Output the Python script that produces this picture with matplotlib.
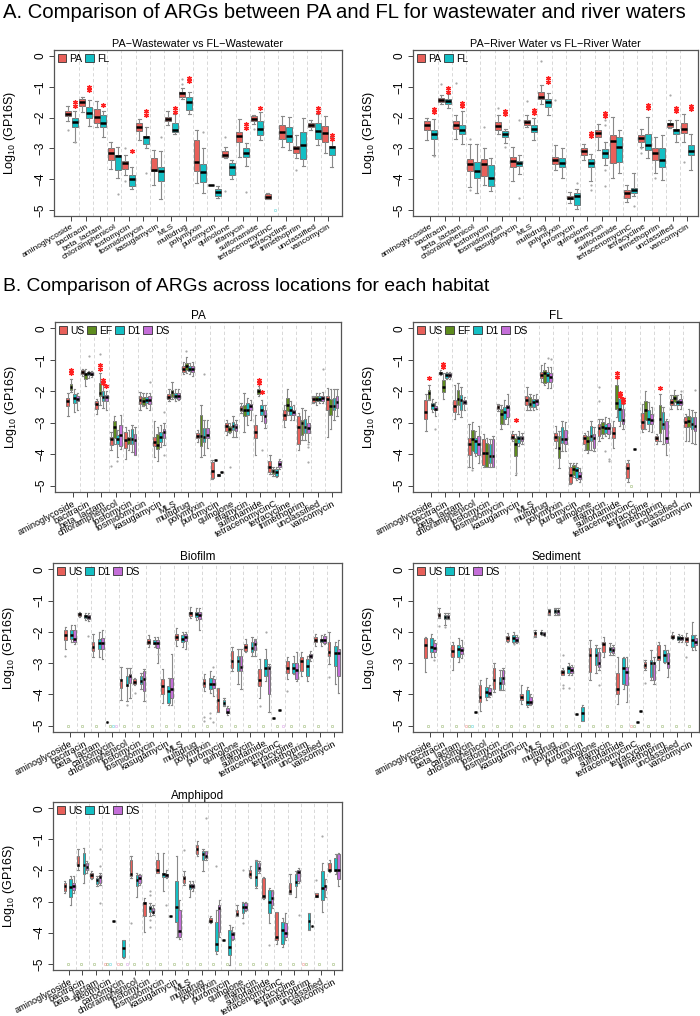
import numpy as np
import matplotlib
matplotlib.use("Agg")
import matplotlib.pyplot as plt
from matplotlib.patches import Patch
from matplotlib.colors import to_rgba

plt.rcParams['font.family'] = ['Liberation Sans', 'DejaVu Sans']
plt.rcParams['mathtext.fontset'] = 'custom'
plt.rcParams['mathtext.rm'] = 'Liberation Sans'
plt.rcParams['mathtext.default'] = 'regular'

RED = "#E8605A"
GREEN = "#5E8C1E"
TEAL = "#14BFC4"
VIOLET = "#C46ED8"

# ---------------- categories ----------------
cats_A = ["aminoglycoside", "bacitracin", "beta_lactam", "chloramphenicol", "fosfomycin",
          "fosmidomycin", "kasugamycin", "MLS", "multidrug", "polymyxin", "puromycin",
          "quinolone", "rifamycin", "sulfonamide", "tetracenomycinC", "tetracycline",
          "trimethoprim", "unclassified", "vancomycin"]
cats_bio = cats_A[:3] + ["carbomycin"] + cats_A[3:]
cats_amph = cats_A[:3] + ["bleomycin", "carbomycin"] + cats_A[3:]

# box rows: [lower whisker, q1, median, q3, upper whisker]
ww_pa = [[-2.11, -1.96, -1.87, -1.77, -1.61], [-1.82, -1.61, -1.48, -1.41, -1.34],
         [-2.30, -2.19, -1.98, -1.73, -1.45], [-3.67, -3.39, -3.14, -3.00, -2.78],
         [-3.85, -3.67, -3.48, -3.40, -3.21], [-2.73, -2.44, -2.32, -2.19, -2.03],
         [-4.18, -3.75, -3.69, -3.32, -3.05], [-2.25, -2.12, -2.03, -1.98, -1.77],
         [-1.39, -1.32, -1.21, -1.16, -1.04], [-4.12, -3.75, -3.45, -2.73, -2.41],
         [-4.18, -4.18, -4.18, -4.18, -4.18], [-3.32, -3.27, -3.21, -3.10, -2.94],
         [-3.29, -2.78, -2.60, -2.46, -2.03], [-2.20, -2.12, -2.03, -1.96, -1.90],
         [-4.66, -4.64, -4.57, -4.50, -4.46], [-2.94, -2.68, -2.46, -2.23, -1.95],
         [-3.32, -3.14, -3.00, -2.92, -2.57], [-2.39, -2.30, -2.23, -2.17, -2.09],
         [-3.16, -2.78, -2.49, -2.28, -1.96]]
ww_fl = [[-2.78, -2.30, -2.14, -2.00, -1.80], [-2.27, -2.00, -1.85, -1.64, -1.42],
         [-2.62, -2.30, -2.17, -1.93, -1.77], [-3.96, -3.69, -3.24, -3.21, -2.94],
         [-4.31, -4.23, -4.01, -3.85, -3.59], [-3.00, -2.86, -2.64, -2.60, -2.30],
         [-4.66, -4.07, -3.72, -3.62, -3.10], [-2.52, -2.46, -2.41, -2.19, -1.87],
         [-1.87, -1.75, -1.50, -1.34, -1.18], [-4.44, -4.10, -3.78, -3.50, -3.00],
         [-4.60, -4.55, -4.42, -4.31, -4.23], [-4.01, -3.85, -3.61, -3.46, -3.37],
         [-3.57, -3.27, -3.14, -3.00, -2.84], [-2.73, -2.57, -2.37, -2.11, -1.82],
         None, [-3.05, -2.78, -2.60, -2.30, -1.98],
         [-3.57, -3.33, -2.89, -2.46, -2.00], [-2.89, -2.68, -2.43, -2.17, -1.87],
         [-3.61, -3.21, -2.97, -2.92, -2.62]]
rw_pa = [[-2.73, -2.39, -2.25, -2.11, -2.00], [-1.55, -1.50, -1.42, -1.37, -1.28],
         [-2.68, -2.36, -2.25, -2.11, -1.93], [-4.25, -3.72, -3.50, -3.34, -2.86],
         [-4.18, -3.91, -3.50, -3.34, -3.00], [-2.52, -2.39, -2.28, -2.14, -1.93],
         [-4.07, -3.59, -3.40, -3.29, -2.94], [-2.30, -2.23, -2.14, -2.09, -1.93],
         [-1.55, -1.39, -1.32, -1.18, -0.93], [-3.69, -3.51, -3.37, -3.27, -2.89],
         [-4.79, -4.66, -4.60, -4.55, -4.42], [-3.37, -3.21, -3.07, -3.00, -2.87],
         [-3.05, -2.64, -2.49, -2.41, -2.22], [-3.96, -3.48, -2.75, -2.57, -1.98],
         [-4.74, -4.60, -4.44, -4.34, -4.18], [-2.94, -2.78, -2.67, -2.57, -2.36],
         [-3.80, -3.37, -3.16, -3.00, -2.62], [-2.33, -2.30, -2.22, -2.17, -2.07],
         [-2.78, -2.49, -2.36, -2.19, -1.87]]
rw_fl = [[-3.21, -2.68, -2.54, -2.39, -2.03], [-1.68, -1.57, -1.45, -1.41, -1.23],
         [-2.86, -2.54, -2.39, -2.25, -1.80], [-4.44, -3.96, -3.73, -3.43, -2.86],
         [-4.39, -4.23, -3.96, -3.53, -3.32], [-2.84, -2.62, -2.52, -2.44, -2.36],
         [-3.82, -3.57, -3.46, -3.40, -3.21], [-2.73, -2.46, -2.36, -2.25, -2.00],
         [-1.90, -1.64, -1.50, -1.41, -1.21], [-3.96, -3.59, -3.46, -3.32, -3.00],
         [-4.98, -4.85, -4.55, -4.44, -4.31], [-4.07, -3.59, -3.46, -3.35, -3.19],
         [-3.53, -3.32, -3.16, -3.02, -2.78], [-3.80, -3.43, -2.94, -2.62, -2.39],
         [-4.55, -4.44, -4.36, -4.28, -3.80], [-3.32, -3.05, -2.89, -2.52, -1.98],
         [-4.04, -3.59, -3.37, -3.00, -2.57], [-2.78, -2.54, -2.41, -2.36, -2.09],
         [-3.69, -3.21, -3.07, -2.89, -2.52]]

pa_us = [[-2.78, -2.46, -2.32, -2.21, -2.05], [-1.51, -1.46, -1.39, -1.33, -1.28],
         [-2.72, -2.57, -2.39, -2.30, -2.24], [-3.87, -3.71, -3.53, -3.44, -3.28],
         [-4.14, -3.79, -3.55, -3.28, -3.12], [-2.59, -2.41, -2.27, -2.16, -2.03],
         [-4.09, -3.75, -3.61, -3.44, -2.96], [-2.32, -2.24, -2.18, -2.10, -1.94],
         [-1.46, -1.39, -1.30, -1.19, -1.06], [-3.61, -3.50, -3.42, -3.32, -3.23],
         [-4.79, -4.75, -4.52, -4.25, -4.18], [-3.39, -3.25, -3.10, -3.02, -2.91],
         [-2.70, -2.64, -2.56, -2.48, -2.37], [-4.03, -3.47, -3.28, -3.07, -2.75],
         [-4.63, -4.57, -4.41, -4.20, -4.03], [-3.12, -2.91, -2.75, -2.61, -2.43],
         [-3.87, -3.66, -3.12, -2.80, -2.69], [-2.37, -2.35, -2.24, -2.18, -2.14],
         [-3.44, -2.59, -2.24, -2.16, -1.89]]
pa_ef = [[-2.03, -1.97, -1.87, -1.78, -1.60], [-1.84, -1.60, -1.46, -1.41, -1.30],
         [-2.43, -2.16, -2.07, -1.73, -1.41], [-3.68, -3.47, -3.14, -2.96, -2.80],
         [-3.87, -3.66, -3.53, -3.44, -3.23], [-2.48, -2.43, -2.32, -2.18, -2.05],
         [-4.20, -3.82, -3.71, -3.37, -3.12], [-2.24, -2.18, -2.02, -1.97, -1.71],
         [-1.41, -1.32, -1.19, -1.11, -0.92], [-4.09, -3.75, -3.42, -2.75, -2.43],
         [-4.18, -4.18, -4.18, -4.18, -4.18], [-3.34, -3.28, -3.21, -3.10, -3.02],
         [-3.28, -2.80, -2.61, -2.43, -2.05], [-2.16, -2.10, -2.00, -1.92, -1.84],
         [-4.68, -4.63, -4.54, -4.46, -4.41], [-2.75, -2.64, -2.43, -2.21, -1.94],
         [-3.55, -3.39, -3.02, -2.91, -2.53], [-2.43, -2.32, -2.24, -2.16, -2.05],
         [-3.21, -2.75, -2.48, -2.24, -1.94]]
pa_d1 = [[-2.67, -2.37, -2.21, -2.08, -1.94], [-1.57, -1.49, -1.43, -1.39, -1.35],
         [-2.53, -2.32, -2.18, -2.00, -1.73], [-4.09, -3.66, -3.52, -3.39, -3.23],
         [-3.93, -3.66, -3.53, -3.21, -3.07], [-2.53, -2.37, -2.29, -2.18, -2.05],
         [-3.77, -3.61, -3.44, -3.28, -3.07], [-2.32, -2.21, -2.14, -2.05, -1.92],
         [-1.46, -1.35, -1.28, -1.19, -1.09], [-4.03, -3.61, -3.44, -3.18, -2.91],
         [-4.68, -4.68, -4.65, -4.62, -4.62], [-3.45, -3.23, -3.10, -2.99, -2.80],
         [-3.07, -2.75, -2.59, -2.37, -2.21], [-2.96, -2.75, -2.59, -2.43, -2.27],
         [-4.73, -4.68, -4.57, -4.46, -4.41], [-2.91, -2.75, -2.61, -2.48, -2.32],
         [-3.55, -3.34, -3.14, -2.89, -2.59], [-2.37, -2.32, -2.24, -2.14, -2.05],
         [-2.91, -2.59, -2.48, -2.21, -1.94]]
pa_ds = [[-2.59, -2.32, -2.24, -2.14, -2.05], [-1.54, -1.49, -1.44, -1.39, -1.35],
         [-2.59, -2.30, -2.18, -2.11, -2.00], [-3.82, -3.75, -3.39, -3.07, -2.75],
         [-4.03, -4.03, -3.55, -3.36, -3.12], [-2.59, -2.39, -2.27, -2.16, -2.05],
         [-3.71, -3.50, -3.28, -3.21, -3.02], [-2.29, -2.23, -2.14, -2.05, -1.92],
         [-1.51, -1.39, -1.30, -1.19, -1.06], [-3.79, -3.50, -3.39, -3.18, -2.91],
         [-4.55, -4.55, -4.55, -4.55, -4.55], [-3.45, -3.25, -3.12, -3.04, -2.91],
         [-2.91, -2.59, -2.48, -2.39, -2.27], [-3.18, -3.02, -2.78, -2.59, -2.43],
         [-4.46, -4.41, -4.30, -4.22, -4.14], [-2.91, -2.75, -2.67, -2.59, -2.43],
         [-3.61, -3.34, -3.18, -3.02, -2.80], [-2.37, -2.32, -2.21, -2.16, -2.03],
         [-2.80, -2.53, -2.35, -2.16, -1.94]]

fl_us = [[-3.26, -2.88, -2.67, -2.29, -2.08], [-1.48, -1.45, -1.41, -1.38, -1.34],
         [-2.88, -2.67, -2.48, -2.27, -1.81], [-4.39, -4.01, -3.69, -3.47, -3.04],
         [-4.39, -4.33, -3.96, -3.53, -3.37], [-2.63, -2.56, -2.50, -2.45, -2.40],
         [-3.58, -3.53, -3.45, -3.37, -3.26], [-2.61, -2.45, -2.29, -2.16, -1.86],
         [-1.70, -1.59, -1.48, -1.38, -1.16], [-3.80, -3.58, -3.45, -3.31, -3.10],
         [-4.96, -4.92, -4.66, -4.42, -4.28], [-3.85, -3.69, -3.47, -3.39, -3.31],
         [-3.58, -3.42, -3.17, -3.04, -2.88], [-3.80, -3.47, -3.31, -3.15, -2.94],
         [-4.87, -4.76, -4.44, -4.28, -4.17], [-3.30, -3.20, -2.98, -2.70, -2.40],
         [-3.69, -3.58, -3.50, -3.42, -3.37], [-2.56, -2.45, -2.34, -2.24, -2.13],
         [-3.58, -3.13, -2.99, -2.83, -2.72]]
fl_ef = [[-2.29, -2.24, -2.05, -1.97, -1.81], [-2.24, -2.02, -1.86, -1.65, -1.43],
         [-2.72, -2.45, -2.24, -1.95, -1.75], [-4.44, -3.90, -3.53, -3.24, -2.99],
         [-4.42, -4.39, -3.96, -3.63, -3.47], [-3.20, -3.04, -2.72, -2.56, -2.45],
         [-4.66, -4.06, -3.67, -3.47, -3.37], [-2.61, -2.50, -2.40, -2.18, -2.08],
         [-1.81, -1.75, -1.43, -1.32, -1.11], [-4.44, -4.12, -3.80, -3.42, -3.26],
         [-4.71, -4.66, -4.46, -4.33, -4.28], [-3.96, -3.85, -3.58, -3.42, -3.26],
         [-3.47, -3.37, -3.13, -2.99, -2.88], [-2.83, -2.56, -2.37, -1.81, -1.56],
         None, [-3.20, -2.90, -2.60, -2.30, -2.00],
         [-3.58, -3.31, -2.88, -2.45, -2.08], [-2.45, -2.34, -2.20, -2.13, -1.97],
         [-3.58, -3.15, -2.94, -2.77, -2.56]]
fl_d1 = [[-2.67, -2.56, -2.45, -2.38, -2.24], [-1.62, -1.59, -1.48, -1.43, -1.38],
         [-2.83, -2.61, -2.29, -2.13, -1.86], [-4.06, -3.96, -3.58, -3.47, -3.26],
         [-4.39, -4.28, -4.06, -3.69, -3.53], [-3.04, -2.88, -2.67, -2.50, -2.29],
         [-3.74, -3.63, -3.47, -3.42, -3.26], [-2.61, -2.50, -2.34, -2.24, -2.13],
         [-1.91, -1.70, -1.48, -1.38, -1.22], [-3.90, -3.63, -3.53, -3.15, -2.94],
         [-4.82, -4.76, -4.49, -4.39, -4.28], [-3.85, -3.58, -3.42, -3.10, -2.94],
         [-3.42, -3.31, -3.17, -3.04, -2.83], [-3.10, -2.94, -2.56, -2.24, -2.08],
         [-3.83, -3.83, -3.83, -3.83, -3.83], [-3.25, -3.05, -2.88, -2.60, -2.35],
         [-3.69, -3.20, -3.04, -2.67, -2.50], [-2.56, -2.45, -2.34, -2.27, -2.13],
         [-3.63, -3.20, -3.04, -2.83, -2.61]]
fl_ds = [[-2.77, -2.61, -2.56, -2.48, -2.34], [-1.62, -1.56, -1.48, -1.43, -1.38],
         [-2.61, -2.42, -2.34, -2.27, -2.18], [-4.28, -4.01, -3.67, -3.42, -3.10],
         [-4.42, -4.39, -4.06, -3.53, -3.42], [-3.04, -2.83, -2.50, -2.45, -2.08],
         [-3.69, -3.58, -3.50, -3.42, -3.31], [-2.56, -2.45, -2.31, -2.24, -2.08],
         [-1.91, -1.70, -1.54, -1.43, -1.22], [-3.90, -3.69, -3.53, -3.24, -2.99],
         [-4.87, -4.78, -4.68, -4.55, -4.44], [-3.90, -3.80, -3.47, -3.37, -3.15],
         [-3.47, -3.35, -3.17, -3.02, -2.85], [-3.20, -3.04, -2.91, -2.56, -2.40],
         None, [-3.30, -3.05, -2.90, -2.72, -2.50],
         [-4.01, -3.63, -3.47, -2.93, -2.88], [-2.56, -2.45, -2.34, -2.24, -2.08],
         [-3.69, -3.26, -3.10, -2.83, -2.67]]

bio_us = [[-2.54, -2.27, -2.11, -1.95, -1.84], [-1.52, -1.49, -1.44, -1.41, -1.38],
          [-2.81, -2.60, -2.47, -2.33, -2.06], [-4.87] * 5,
          [-4.17, -3.79, -3.55, -3.52, -3.12], [-3.70, -3.66, -3.59, -3.52, -3.46],
          [-2.49, -2.38, -2.31, -2.22, -2.11], [-4.27, -3.98, -3.73, -3.52, -3.19],
          [-2.44, -2.27, -2.16, -2.06, -1.89], [-1.57, -1.49, -1.41, -1.35, -1.21],
          [-3.90, -3.77, -3.63, -3.52, -3.36], [-4.55, -4.55, -4.17, -3.79, -3.79],
          [-3.25, -3.14, -2.92, -2.60, -2.49], [-2.65, -2.60, -2.49, -2.38, -2.22],
          [-4.11, -3.73, -3.55, -3.19, -2.87], [-4.74] * 5,
          [-3.52, -3.30, -3.14, -2.92, -2.81], [-3.41, -3.25, -2.92, -2.81, -2.65],
          [-2.44, -2.33, -2.25, -2.16, -2.08], [-3.03, -2.76, -2.65, -2.33, -2.00]]
bio_d1 = [[-2.33, -2.22, -2.11, -1.95, -1.79], [-1.62, -1.57, -1.49, -1.46, -1.41],
          [-2.81, -2.54, -2.36, -2.22, -2.00], None,
          [-4.22, -3.73, -3.70, -3.41, -3.16], [-3.84, -3.68, -3.57, -3.41, -3.30],
          [-2.49, -2.40, -2.36, -2.27, -2.17], [-4.33, -4.27, -3.90, -3.73, -3.46],
          [-2.49, -2.33, -2.22, -2.11, -2.00], [-1.62, -1.54, -1.43, -1.35, -1.24],
          [-3.95, -3.84, -3.66, -3.46, -3.25], [-4.38, -4.33, -4.27, -4.17, -4.11],
          [-3.68, -3.25, -2.92, -2.76, -2.54], [-2.76, -2.65, -2.51, -2.33, -2.16],
          [-3.57, -3.41, -3.14, -2.87, -2.54], [-4.51] * 5,
          [-3.36, -3.30, -3.14, -2.98, -2.76], [-3.57, -3.41, -3.08, -2.87, -2.76],
          [-2.44, -2.33, -2.25, -2.22, -2.11], [-3.68, -3.08, -2.68, -2.44, -2.33]]
bio_ds = [[-2.38, -2.33, -2.22, -1.95, -1.79], [-1.65, -1.60, -1.52, -1.46, -1.41],
          [-2.87, -2.54, -2.36, -2.19, -1.95], None,
          [-4.11, -3.63, -3.41, -3.35, -3.14], [-4.20, -3.90, -3.52, -3.25, -3.19],
          [-2.98, -2.51, -2.36, -2.25, -2.16], [-4.33, -4.11, -3.84, -3.46, -2.71],
          [-2.54, -2.30, -2.16, -2.06, -2.00], [-1.95, -1.60, -1.46, -1.38, -1.24],
          [-4.06, -3.79, -3.68, -3.52, -3.41], [-4.65, -4.60, -4.55, -4.42, -4.38],
          [-3.84, -3.25, -3.12, -2.76, -2.54], [-2.76, -2.58, -2.38, -2.27, -2.22],
          [-4.55, -4.00, -3.14, -3.08, -3.03], None,
          [-3.57, -3.52, -3.23, -2.98, -2.65], [-2.92, -2.84, -2.76, -2.71, -2.60],
          [-2.40, -2.36, -2.25, -2.14, -2.06], [-3.95, -3.41, -2.68, -2.54, -2.27]]

sed_us = [[-3.28, -2.85, -2.42, -2.20, -2.15], [-1.56, -1.53, -1.45, -1.40, -1.24],
          [-3.23, -2.80, -2.60, -2.42, -2.31], None,
          [-4.52, -4.25, -4.09, -3.71, -3.55], [-3.92, -3.82, -3.55, -3.17, -3.01],
          [-2.31, -2.28, -2.20, -2.13, -2.04], [-4.30, -4.19, -4.09, -3.98, -3.71],
          [-2.15, -2.13, -2.04, -1.99, -1.94], [-1.45, -1.42, -1.34, -1.29, -1.27],
          [-3.39, -3.37, -3.28, -3.23, -3.17], [-4.62] * 5,
          [-3.55, -3.28, -2.74, -2.53, -2.26], [-2.80, -2.63, -2.40, -2.31, -2.15],
          [-4.30, -3.98, -3.82, -3.33, -2.80], None,
          [-3.23, -3.17, -3.06, -2.96, -2.90], [-3.23, -2.90, -2.80, -2.42, -2.31],
          [-2.24, -2.20, -2.15, -2.10, -2.02], [-2.42, -2.31, -2.24, -2.15, -2.04]]
sed_d1 = [[-2.80, -2.63, -2.49, -2.20, -2.06], [-1.77, -1.59, -1.51, -1.45, -1.40],
          [-2.96, -2.80, -2.56, -2.42, -2.20], None,
          [-4.19, -4.09, -3.92, -3.76, -3.49], [-3.87, -3.82, -3.63, -3.44, -3.23],
          [-2.37, -2.31, -2.20, -2.10, -1.99], [-4.41, -4.35, -4.25, -3.87, -3.76],
          [-2.10, -2.06, -2.04, -1.99, -1.94], [-1.45, -1.40, -1.34, -1.27, -1.24],
          [-3.39, -3.31, -3.17, -3.10, -3.01], [-4.84, -4.84, -4.60, -4.41, -4.35],
          [-3.33, -3.06, -2.74, -2.53, -2.42], [-2.74, -2.63, -2.56, -2.47, -2.37],
          [-3.82, -3.66, -3.17, -2.85, -2.80], [-4.87] * 5,
          [-3.55, -3.44, -2.99, -2.90, -2.58], [-3.01, -2.96, -2.74, -2.58, -2.42],
          [-2.31, -2.26, -2.20, -2.13, -2.06], [-2.58, -2.47, -2.26, -2.10, -1.67]]
sed_ds = [[-2.80, -2.63, -2.53, -2.37, -2.26], [-1.60, -1.56, -1.51, -1.45, -1.40],
          [-2.85, -2.71, -2.58, -2.49, -2.26], [-4.57] * 5,
          [-4.09, -4.03, -3.95, -3.81, -3.71], [-3.87, -3.66, -3.49, -3.23, -3.17],
          [-2.37, -2.31, -2.26, -2.17, -2.10], [-4.35, -4.30, -4.25, -4.09, -3.98],
          [-2.13, -2.10, -2.06, -2.02, -1.99], [-1.45, -1.42, -1.34, -1.29, -1.24],
          [-3.39, -3.33, -3.23, -3.12, -3.06], None,
          [-3.23, -3.12, -3.01, -2.63, -2.53], [-2.74, -2.67, -2.58, -2.49, -2.42],
          [-4.25, -3.71, -3.28, -3.12, -2.80], [-4.54] * 5,
          [-3.66, -3.55, -3.01, -2.96, -2.80], [-3.44, -3.17, -2.99, -2.69, -2.58],
          [-2.31, -2.26, -2.20, -2.15, -2.10], [-2.58, -2.42, -2.31, -2.20, -2.10]]

amp_us = [[-2.73, -2.67, -2.51, -2.40, -2.35], [-1.97, -1.86, -1.84, -1.54, -1.32],
          [-2.27, -2.24, -2.16, -2.08, -2.02], None, None,
          [-2.24, -2.19, -2.13, -1.65, -1.54], [-3.97, -3.48, -3.05, -3.00, -2.89],
          [-2.08, -2.08, -1.99, -1.65, -1.43], [-3.46] * 5,
          [-2.46, -2.40, -2.24, -2.19, -2.02], [-1.54, -1.48, -1.32, -1.19, -1.05],
          [-3.70, -3.65, -3.61, -3.54, -3.48], [-4.22] * 5,
          [-3.48, -3.43, -3.40, -3.27, -3.10], [-2.24, -2.21, -2.13, -1.97, -1.86],
          [-2.92, -2.89, -2.81, -2.24, -2.21], [-4.35, -4.24, -4.13, -3.32, -3.32],
          [-2.75, -2.73, -2.67, -2.40, -2.13], None,
          [-2.86, -2.84, -2.81, -2.73, -2.71], [-2.06, -2.02, -1.99, -1.75, -1.65]]
amp_d1 = [[-3.11, -2.84, -2.53, -2.29, -2.19], [-2.40, -2.13, -1.81, -1.43, -1.27],
          [-2.51, -2.44, -2.32, -2.24, -2.19], None,
          [-4.80, -4.78, -4.50, -4.24, -4.24],
          [-2.84, -2.51, -2.32, -2.16, -2.08], [-3.48, -3.32, -3.21, -3.14, -3.05],
          [-2.67, -2.21, -2.13, -2.08, -1.43], [-4.13, -3.65, -3.16, -2.35, -1.54],
          [-2.84, -2.60, -2.51, -2.42, -2.35], [-2.02, -1.65, -1.48, -1.37, -1.32],
          [-4.68, -4.59, -4.35, -3.65, -3.27], [-5.05, -4.73, -4.46, -3.92, -3.76],
          [-3.54, -3.38, -3.18, -3.05, -3.00], [-2.56, -2.51, -2.21, -1.70, -1.65],
          [-3.70, -3.38, -3.00, -2.62, -2.56], [-4.46, -4.35, -3.92, -3.65, -3.54],
          [-2.84, -2.51, -2.38, -2.13, -2.02], [-3.92, -3.92, -3.61, -3.38, -3.38],
          [-3.32, -2.94, -2.57, -2.02, -1.75], [-2.13, -2.02, -1.97, -1.59, -1.48]]
amp_ds = [[-2.73, -2.62, -2.51, -2.40, -2.19], [-2.08, -1.97, -1.88, -1.75, -1.70],
          [-2.46, -2.40, -2.21, -2.16, -2.08], [-3.63] * 5, None,
          [-2.46, -2.40, -2.24, -2.16, -2.10], [-3.43, -3.38, -3.32, -3.21, -3.10],
          [-2.24, -2.21, -2.16, -2.10, -1.97], [-4.19, -4.13, -3.94, -3.27, -2.94],
          [-2.67, -2.58, -2.51, -2.42, -2.35], [-1.65, -1.59, -1.54, -1.37, -1.37],
          [-4.13, -3.97, -3.21, -3.10, -2.94], [-4.24, -4.19, -4.05, -3.97, -3.81],
          [-3.29, -3.27, -3.16, -3.05, -3.00], [-2.08, -2.02, -1.92, -1.75, -1.70],
          [-3.21, -3.11, -2.89, -2.67, -2.62], [-4.24, -4.13, -4.00, -3.70, -3.38],
          [-2.40, -2.35, -2.06, -1.97, -1.92], [-3.79] * 5,
          [-2.84, -2.62, -2.51, -2.46, -2.29], [-2.51, -2.29, -1.97, -1.48, -1.43]]

# outliers: (category index, slot, value)
ww_out = [(0, 0, -2.39), (4, 0, -3.0), (4, 0, -4.07), (8, 0, -0.75), (8, 0, -0.9),
          (11, 0, -2.64), (11, 0, -4.39), (13, 0, -2.36), (16, 0, -3.69),
          (0, 1, -2.78), (3, 1, -4.48), (5, 1, -3.8), (6, 1, -2.62), (9, 1, -2.46), (12, 1, -4.42)]
rw_out = [(1, 0, -0.89), (2, 0, -0.86), (3, 0, -2.68), (3, 0, -4.34), (4, 0, -2.32),
          (5, 0, -1.68), (7, 0, -1.47), (8, 0, -0.16), (9, 0, -1.42), (15, 0, -3.0),
          (15, 0, -3.16), (16, 0, -3.96), (17, 0, -1.28), (18, 0, -3.43),
          (0, 1, -3.24), (5, 1, -2.94), (6, 1, -2.09), (6, 1, -4.6), (10, 1, -4.14),
          (11, 1, -4.18), (11, 1, -4.34), (12, 1, -2.09), (12, 1, -2.25), (12, 1, -3.69),
          (12, 1, -4.23), (14, 1, -4.87)]
pa_out = [(1, 2, -0.87), (2, 1, -0.82), (3, 0, -4.36), (3, 2, -4.2), (5, 3, -1.71),
          (6, 3, -2.67), (6, 3, -4.03), (8, 1, -0.71), (11, 1, -4.41), (16, 3, -3.66),
          (16, 3, -3.77), (16, 3, -4.25), (17, 3, -1.28), (9, 2, -1.45), (13, 2, -3.85)]
fl_out = [(0, 3, -3.2), (3, 1, -4.5), (8, 2, -0.95), (8, 3, -0.97), (12, 0, -1.86),
          (12, 0, -2.32), (12, 2, -3.9), (12, 3, -4.14), (12, 3, -4.22), (17, 3, -2.0),
          (6, 1, -4.6), (18, 3, -1.95)]
bio_out = [(0, 0, -2.76), (1, 3, -2.14), (5, 0, -3.95), (4, 2, -4.33), (10, 0, -4.71),
           (10, 0, -4.85), (10, 2, -4.6), (10, 2, -4.76), (10, 3, -3.12), (10, 3, -4.87),
           (14, 0, -4.38), (14, 2, -2.0), (16, 0, -3.9), (6, 3, -2.7), (19, 0, -3.45)]
sed_out = [(0, 3, -2.9), (1, 0, -1.8), (1, 2, -1.85), (10, 0, -2.74), (10, 0, -3.71),
           (10, 0, -3.78), (10, 2, -3.8), (12, 3, -3.71), (16, 0, -3.63), (19, 0, -2.8),
           (6, 2, -2.4)]
amp_out = [(2, 3, -1.32), (2, 3, -1.86), (2, 3, -3.05), (5, 0, -3.7), (6, 2, -2.67),
           (6, 2, -2.78), (6, 2, -3.6), (6, 2, -3.83), (7, 3, -3.1), (9, 0, -1.35),
           (10, 3, -0.32), (11, 2, -1.87), (13, 2, -1.97), (13, 2, -3.7), (15, 2, -4.4),
           (17, 3, -3.43), (19, 2, -0.89), (19, 0, -2.3)]

# significance marks: (category index, slot, top y, count)
ww_stars = [(0, 1, -1.5, 2), (1, 1, -1.0, 2), (2, 1, -1.6, 1), (4, 1, -3.1, 1),
            (5, 1, -1.8, 2), (7, 1, -1.7, 2), (8, 1, -0.7, 2), (12, 1, -2.22, 2),
            (13, 1, -1.7, 1), (17, 1, -1.7, 2), (18, 1, -2.58, 2)]
rw_stars = [(0, 1, -1.72, 2), (1, 1, -1.05, 2), (2, 1, -1.52, 2), (5, 1, -1.77, 2),
            (7, 1, -1.74, 2), (8, 1, -0.72, 2), (11, 1, -2.5, 2), (12, 1, -1.85, 2),
            (15, 1, -1.58, 2), (17, 1, -1.69, 2), (18, 1, -1.62, 2)]
pa_stars = [(0, 1, -1.32, 2), (2, 1, -1.17, 2), (2, 2, -1.64, 2), (2, 3, -1.84, 1),
            (13, 1, -1.64, 2), (13, 2, -2.03, 1)]
fl_stars = [(0, 1, -1.59, 1), (1, 1, -1.13, 2), (6, 1, -2.9, 1), (13, 1, -1.43, 2),
            (13, 2, -2.05, 2), (13, 3, -2.24, 2), (16, 1, -1.89, 1)]

# empty groups drawn as faint marks at the bottom: (category index, slot)
fl_blank = [(14, 1)]
ww_blank = [(14, 1)]
bio_blank = [(i, 1) for i in range(len(cats_bio))] + [(3, 2), (3, 3), (15, 3)]
sed_blank = [(i, 1) for i in range(len(cats_bio))] + [(3, 0), (3, 2), (15, 0)]
amp_blank = [(i, 1) for i in range(len(cats_amph))] + [(3, 0), (3, 2), (4, 0), (4, 3), (18, 0)]


W, H = 700, 1016
fig = plt.figure(figsize=(W / 100, H / 100), dpi=100)


def rect(l, r, t, b):
    return [l / W, 1 - b / H, (r - l) / W, (b - t) / H]


def panel(box, cats, series, colors, names, legcols, title, offs, width, out=(),
          stars=(), blank=(), xfs=6.6, tfs=8.5, rmarg=0.6, rot=28):
    ax = fig.add_axes(rect(*box))
    n = len(cats)
    xs = np.arange(1, n + 1)
    for b in xs[:-1] + 0.5:
        ax.axvline(b, color="#d2d2d2", lw=0.6, ls=(0, (4, 3)), zorder=0)
    for rows, col, off in zip(series, colors, offs):
        stats, pos = [], []
        for i, r in enumerate(rows):
            if r is None:
                continue
            lo, q1, med, q3, hi = r
            stats.append(dict(whislo=lo, q1=q1, med=med, q3=q3, whishi=hi, fliers=[]))
            pos.append(xs[i] + off)
        if not stats:
            continue
        ax.bxp(stats, positions=pos, widths=width, capwidths=width * 0.5,
               showfliers=False, patch_artist=True, manage_ticks=False,
               boxprops=dict(facecolor=col, edgecolor="#6a6a6a", lw=0.6),
               medianprops=dict(color="black", lw=1.8, solid_capstyle="butt"),
               whiskerprops=dict(color="#8a8a8a", lw=0.8),
               capprops=dict(color="#8a8a8a", lw=0.8))
    for c, s, v in out:
        ax.plot(xs[c] + offs[s], v, "o", ms=1.6, color="#a8a8a8", mec="none")
    for c, s in blank:
        ax.plot(xs[c] + offs[s], -5.0, "s", ms=2.0, mfc="none",
                mec=to_rgba(colors[s], 0.4), mew=0.6)
    for c, s, y, k in stars:
        ax.plot([xs[c] + offs[s]] * k, [y - 0.11 * j for j in range(k)],
                ls="none", marker=(6, 2, 0), ms=3.4, mew=0.9, color="#FF2020")
    ax.set_xlim(1 - 1.22, n + rmarg)
    ax.set_ylim(-5.2, 0.2)
    ax.set_yticks([0, -1, -2, -3, -4, -5])
    ax.set_yticklabels(["0", "\u22121", "\u22122", "\u22123", "\u22124", "\u22125"],
                       rotation=90, va="center", fontsize=8.5)
    ax.set_xticks(xs)
    ax.set_xticklabels(cats, rotation=rot, ha="right", rotation_mode="anchor",
                       fontsize=xfs)
    ax.tick_params(axis="both", length=3.5, width=0.7, color="#444444", pad=2)
    ax.tick_params(axis="x", pad=1.5)
    for sp in ax.spines.values():
        sp.set_color("#555555")
        sp.set_linewidth(0.9)
    ax.set_title(title, fontsize=tfs, pad=2)
    ax.set_ylabel("Log$_{10}$ (GP16S)", fontsize=9)
    ax.yaxis.set_label_coords(-36 / (box[1] - box[0]), 0.5)
    handles = [Patch(facecolor=c, edgecolor="#333333", lw=0.6) for c in legcols]
    ax.legend(handles, names, loc="upper left", ncol=len(names), frameon=False,
              fontsize=7.5, handlelength=0.8, handleheight=0.8, handletextpad=0.3,
              columnspacing=0.3, borderaxespad=0.15, borderpad=0.2)
    return ax


offA = [-0.24, 0.24]
offB = [-0.33, -0.11, 0.11, 0.33]
colB = [RED, GREEN, TEAL, VIOLET]
loc4 = ["US", "EF", "D1", "DS"]
loc3 = ["US", "D1", "DS"]
col3 = [RED, TEAL, VIOLET]

fig.text(0.004, 1 - 13 / H, "A. Comparison of ARGs between PA and FL for wastewater and river waters",
         fontsize=14.6, va="center", ha="left")
fig.text(0.004, 1 - 287 / H, "B. Comparison of ARGs across locations for each habitat",
         fontsize=13.9, va="center", ha="left")

panel((54, 342, 50, 216), cats_A, [ww_pa, ww_fl], [RED, TEAL], ["PA", "FL"], [RED, TEAL],
      "PA\u2212Wastewater vs FL\u2212Wastewater", offA, 0.42, ww_out, ww_stars, ww_blank,
      xfs=6.0, tfs=7.8, rmarg=0.95, rot=31)
panel((413, 698, 50, 216), cats_A, [rw_pa, rw_fl], [RED, TEAL], ["PA", "FL"], [RED, TEAL],
      "PA\u2212River Water vs FL\u2212River Water", offA, 0.42, rw_out, rw_stars,
      xfs=6.0, tfs=7.8, rmarg=0.75, rot=31)

panel((55, 341, 322, 492), cats_A, [pa_us, pa_ef, pa_d1, pa_ds], colB, loc4, colB,
      "PA", offB, 0.19, pa_out, pa_stars)
panel((413, 699, 322, 492), cats_A, [fl_us, fl_ef, fl_d1, fl_ds], colB, loc4, colB,
      "FL", offB, 0.19, fl_out, fl_stars, fl_blank)

panel((53, 342, 563, 732), cats_bio, [bio_us, [None] * len(cats_bio), bio_d1, bio_ds],
      colB, loc3, col3, "Biofilm", offB, 0.19, bio_out, (), bio_blank)
panel((413, 699, 563, 732), cats_bio, [sed_us, [None] * len(cats_bio), sed_d1, sed_ds],
      colB, loc3, col3, "Sediment", offB, 0.19, sed_out, (), sed_blank)
panel((53, 342, 802, 970), cats_amph, [amp_us, [None] * len(cats_amph), amp_d1, amp_ds],
      colB, loc3, col3, "Amphipod", offB, 0.19, amp_out, (), amp_blank)

fig.savefig("out.png", dpi=100)
